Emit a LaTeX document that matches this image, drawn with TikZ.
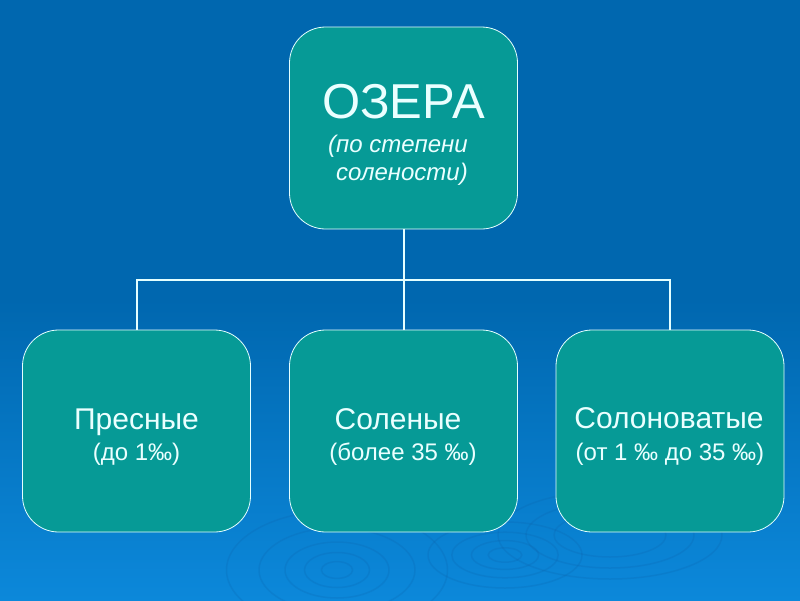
\documentclass[tikz,border=0pt]{standalone}
\usepackage{fontspec}
\setmainfont{Liberation Sans}
\definecolor{bgtop}{HTML}{0067AF}
\definecolor{bgbot}{HTML}{0C88DA}
\definecolor{teal}{HTML}{069A96}
\definecolor{txt}{HTML}{EAFFFF}
\definecolor{line}{HTML}{E4FFFF}
\definecolor{rip}{HTML}{0A5FA8}
\tikzset{
  box/.style={draw=line, line width=0.8pt, fill=teal, rounded corners=36pt,
    minimum width=228pt, minimum height=202pt, inner sep=0pt},
  lbl/.style={text=txt, anchor=base, inner sep=0pt},
  bigt/.style={lbl, font=\fontsize{49}{56}\selectfont},
  itt/.style={lbl, font=\itshape\fontsize{24}{28}\selectfont},
  namet/.style={lbl, font=\fontsize{30}{34}\selectfont},
  subt/.style={lbl, font=\fontsize{24}{28}\selectfont},
  conn/.style={draw=line, line width=2pt},
  ripple/.style={draw=rip, opacity=0.2, line width=1.5pt}
}
\begin{document}
\begin{tikzpicture}[x=1pt,y=-1pt]
  \useasboundingbox (0,0) rectangle (800,600);
  \fill[bgtop] (0,0) rectangle (800,300);
  \shade[top color=bgtop, bottom color=bgbot] (0,299) rectangle (800,600);
  % faint ripples
  \foreach \r in {12,25,40,60,85} {
    \draw[ripple] (337,570) ellipse ({\r*1.3} and {\r*0.7});
  }
  \foreach \r in {12,24,38,55} {
    \draw[ripple] (505,555) ellipse ({\r*1.4} and {\r*0.6});
  }
  \foreach \r in {40,60,80} {
    \draw[ripple] (610,535) ellipse ({\r*1.4} and {\r*0.55});
  }
  \node[box] (top) at (403.5,128) {};
  \node[box] (left) at (136.5,431) {};
  \node[box] (mid) at (403.5,431) {};
  \node[box] (right) at (670,431) {};
  \node[bigt] (t1) at (403.5,118) {ОЗЕРА};
  \node[itt] (t2) at (398,152) {(по степени};
  \node[itt] (t3) at (402,180) {солености)};
  \node[namet] (l1) at (136.5,429) {Пресные};
  \node[subt] (l2) at (136.5,460) {(до 1‰)};
  \node[namet] (m1) at (398,429) {Соленые};
  \node[subt] (m2) at (403,460) {(более 35 ‰)};
  \node[namet] (r1) at (669,428) {Солоноватые};
  \node[subt] (r2) at (670,460) {(от 1 ‰ до 35 ‰)};
  \coordinate (bus) at (403.5,280);
  \draw[conn] (top.south) -- (bus) -- (mid.north);
  \draw[conn] (left.north) |- (bus) -| (right.north);
\end{tikzpicture}
\end{document}
